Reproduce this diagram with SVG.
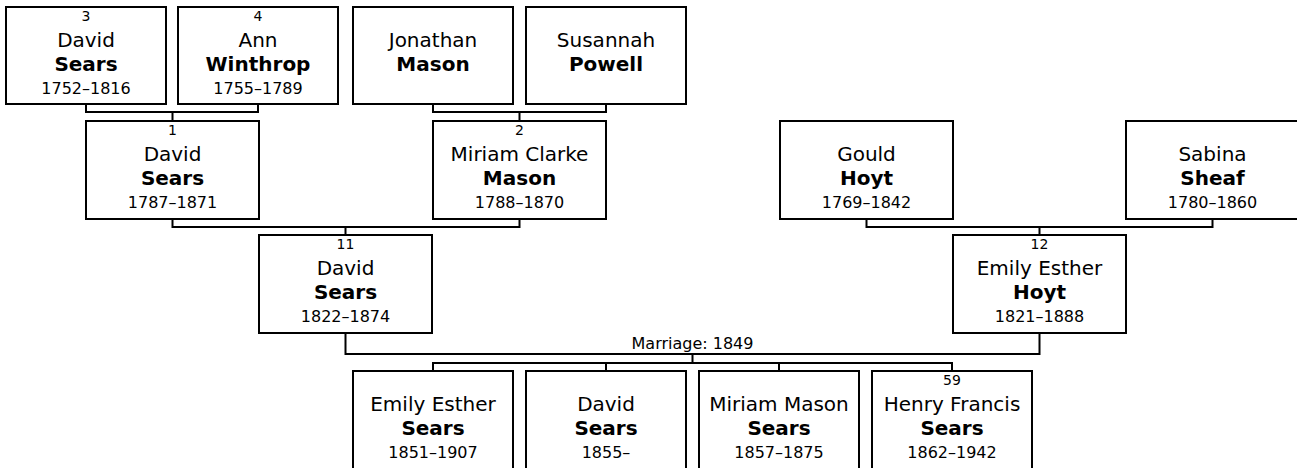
<svg xmlns="http://www.w3.org/2000/svg" width="1297" height="468" viewBox="0 0 1297 468">
<style>
  .box { fill: #ffffff; stroke: #000000; stroke-width: 2; }
  .conn { fill: none; stroke: #000000; stroke-width: 2; }
  text { font-family: "DejaVu Sans", Verdana, "Liberation Sans", sans-serif; fill: #000000; text-anchor: middle; }
  .num { font-size: 14px; }
  .given { font-size: 20px; }
  .sur { font-size: 20px; font-weight: bold; }
  .date { font-size: 16px; }
  .label { font-size: 16px; }
</style>
<rect width="1297" height="468" fill="#ffffff"/>
<g id="connectors">
  <path class="conn" d="M86,104 V112 H258 V104 M172.5,112 V121"/>
  <path class="conn" d="M433,104 V112 H606 V104 M519.5,112 V121"/>
  <path class="conn" d="M172.5,219 V227 H519.5 V219 M345.5,227 V235"/>
  <path class="conn" d="M866.5,219 V227 H1212.5 V219 M1039.5,227 V235"/>
  <path class="conn" d="M345.5,333 V354 H1039.5 V333 M692.5,354 V363"/>
  <path class="conn" d="M433,371 V363 H952 V371 M606,363 V371 M779,363 V371"/>
  <text class="label" x="692.5" y="349">Marriage: 1849</text>
</g>
<g id="n3">
  <rect class="box" x="6" y="7" width="160" height="97"/>
  <text class="num" x="86" y="21">3</text>
  <text class="given" x="86" y="47">David</text>
  <text class="sur" x="86" y="71">Sears</text>
  <text class="date" x="86" y="94">1752–1816</text>
</g>
<g id="n4">
  <rect class="box" x="178" y="7" width="160" height="97"/>
  <text class="num" x="258" y="21">4</text>
  <text class="given" x="258" y="47">Ann</text>
  <text class="sur" x="258" y="71">Winthrop</text>
  <text class="date" x="258" y="94">1755–1789</text>
</g>
<g id="n_jonathan">
  <rect class="box" x="353" y="7" width="160" height="97"/>
  <text class="given" x="433" y="47">Jonathan</text>
  <text class="sur" x="433" y="71">Mason</text>
</g>
<g id="n_susannah">
  <rect class="box" x="526" y="7" width="160" height="97"/>
  <text class="given" x="606" y="47">Susannah</text>
  <text class="sur" x="606" y="71">Powell</text>
</g>
<g id="n1">
  <rect class="box" x="86" y="121" width="173" height="98"/>
  <text class="num" x="172.5" y="135">1</text>
  <text class="given" x="172.5" y="161">David</text>
  <text class="sur" x="172.5" y="185">Sears</text>
  <text class="date" x="172.5" y="208">1787–1871</text>
</g>
<g id="n2">
  <rect class="box" x="433" y="121" width="173" height="98"/>
  <text class="num" x="519.5" y="135">2</text>
  <text class="given" x="519.5" y="161">Miriam Clarke</text>
  <text class="sur" x="519.5" y="185">Mason</text>
  <text class="date" x="519.5" y="208">1788–1870</text>
</g>
<g id="n_gould">
  <rect class="box" x="780" y="121" width="173" height="98"/>
  <text class="given" x="866.5" y="161">Gould</text>
  <text class="sur" x="866.5" y="185">Hoyt</text>
  <text class="date" x="866.5" y="208">1769–1842</text>
</g>
<g id="n_sabina">
  <rect class="box" x="1126" y="121" width="173" height="98"/>
  <text class="given" x="1212.5" y="161">Sabina</text>
  <text class="sur" x="1212.5" y="185">Sheaf</text>
  <text class="date" x="1212.5" y="208">1780–1860</text>
</g>
<g id="n11">
  <rect class="box" x="259" y="235" width="173" height="98"/>
  <text class="num" x="345.5" y="249">11</text>
  <text class="given" x="345.5" y="275">David</text>
  <text class="sur" x="345.5" y="299">Sears</text>
  <text class="date" x="345.5" y="322">1822–1874</text>
</g>
<g id="n12">
  <rect class="box" x="953" y="235" width="173" height="98"/>
  <text class="num" x="1039.5" y="249">12</text>
  <text class="given" x="1039.5" y="275">Emily Esther</text>
  <text class="sur" x="1039.5" y="299">Hoyt</text>
  <text class="date" x="1039.5" y="322">1821–1888</text>
</g>
<g id="c_emily">
  <rect class="box" x="353" y="371" width="160" height="98"/>
  <text class="given" x="433" y="411">Emily Esther</text>
  <text class="sur" x="433" y="435">Sears</text>
  <text class="date" x="433" y="458">1851–1907</text>
</g>
<g id="c_david">
  <rect class="box" x="526" y="371" width="160" height="98"/>
  <text class="given" x="606" y="411">David</text>
  <text class="sur" x="606" y="435">Sears</text>
  <text class="date" x="606" y="458">1855–</text>
</g>
<g id="c_miriam">
  <rect class="box" x="699" y="371" width="160" height="98"/>
  <text class="given" x="779" y="411">Miriam Mason</text>
  <text class="sur" x="779" y="435">Sears</text>
  <text class="date" x="779" y="458">1857–1875</text>
</g>
<g id="c59">
  <rect class="box" x="872" y="371" width="160" height="98"/>
  <text class="num" x="952" y="385">59</text>
  <text class="given" x="952" y="411">Henry Francis</text>
  <text class="sur" x="952" y="435">Sears</text>
  <text class="date" x="952" y="458">1862–1942</text>
</g>
</svg>
